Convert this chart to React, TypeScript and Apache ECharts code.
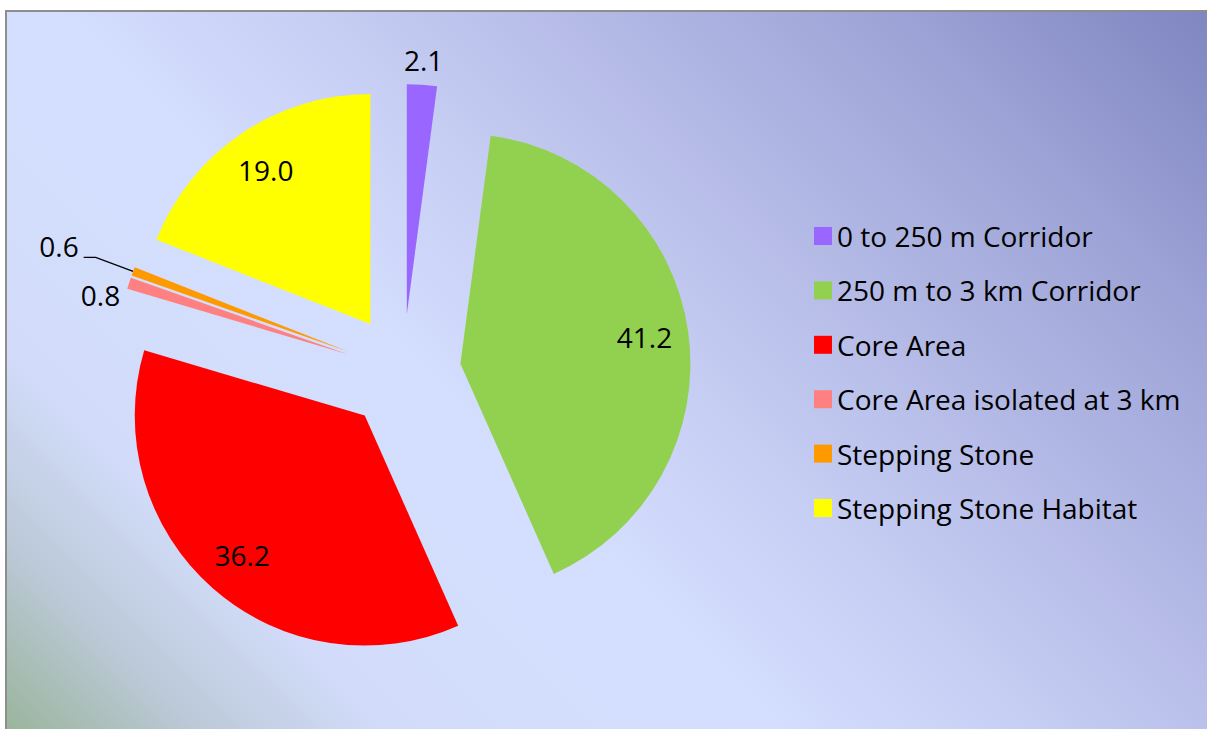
import React, { useEffect, useRef } from "react";
import * as echarts from "echarts";

const categories = [
  "0 to 250 m Corridor",
  "250 m to 3 km Corridor",
  "Core Area",
  "Core Area isolated at 3 km",
  "Stepping Stone",
  "Stepping Stone Habitat",
];
const values = [2.1, 41.2, 36.2, 0.8, 0.6, 19.0];
const colors = ["#9966FF", "#92D050", "#FF0000", "#FF8080", "#FF9900", "#FFFF00"];
// where each slice's value label sits: inside the slice, just beyond it, or outside with a leader
const labelPlace = ["beyond", "inside", "inside", "outside", "outside", "inside"];

const FONT = "'Open Sans', 'Noto Sans', sans-serif";
const FS = 28;

export default function App() {
  const ref = useRef<HTMLDivElement>(null);

  useEffect(() => {
    if (!ref.current) return;
    const chart = echarts.init(ref.current, undefined, { renderer: "svg" });

    const center = [403, 372];
    const R = 230;
    const offset = 58;
    const fmt = (p: any) => Number(p.value).toFixed(1);
    const txt = { color: "#000", fontFamily: FONT, fontSize: FS, formatter: fmt };

    const mainData = categories.map((name, i) => ({
      name,
      value: values[i],
      selected: true,
      itemStyle: { color: colors[i] },
      label:
        labelPlace[i] === "outside"
          ? {
              show: true,
              position: "outside",
              ...txt,
              // label 0.6 sits a little above its leader, 0.8 a little below its slice
              formatter:
                i === 4
                  ? (p: any) => Number(p.value).toFixed(1) + "\n"
                  : (p: any) => "\n" + Number(p.value).toFixed(1),
              lineHeight: i === 4 ? 22 : 26,
            }
          : { show: false },
      labelLine:
        i === 4
          ? { show: true, length: 40, length2: 12, lineStyle: { color: "#000", width: 1.3 } }
          : { show: false, length: 4, length2: 0 },
    }));

    const overlay = (place: string) =>
      categories.map((name, i) => ({
        name,
        value: values[i],
        selected: true,
        itemStyle: { color: "rgba(0,0,0,0)" },
        label:
          labelPlace[i] === place
            ? { show: true, position: "inside", ...txt }
            : { show: false },
      }));

    const overlaySeries = (radius: number[], place: string) => ({
      type: "pie",
      center,
      radius,
      startAngle: 90,
      clockwise: true,
      selectedMode: "multiple",
      selectedOffset: offset,
      avoidLabelOverlap: false,
      silent: true,
      labelLine: { show: false },
      itemStyle: { borderWidth: 0 },
      emphasis: { disabled: true },
      data: overlay(place),
    });

    chart.setOption({
      animation: false,
      graphic: [
        {
          type: "rect",
          z: -10,
          silent: true,
          shape: { x: 6, y: 11, width: 1210, height: 730 },
          style: {
            fill: {
              type: "linear",
              x: 1207,
              y: 10,
              x2: 247,
              y2: 970,
              global: true,
              colorStops: [
                { offset: 0, color: "#7F86C1" },
                { offset: 0.16, color: "#9CA2D5" },
                { offset: 0.32, color: "#B3B9E5" },
                { offset: 0.48, color: "#C8D0F5" },
                { offset: 0.6, color: "#D4DEFE" },
                { offset: 0.8, color: "#D2DCFA" },
                { offset: 0.9, color: "#BCC9D8" },
                { offset: 1, color: "#9AB59C" },
              ],
            },
            stroke: "#8E8E8E",
            lineWidth: 2,
          },
        },
      ],
      legend: {
        orient: "vertical",
        left: 809,
        top: 216,
        icon: "rect",
        itemWidth: 18,
        itemHeight: 18,
        itemGap: 24.4,
        selectedMode: false,
        data: categories,
        textStyle: {
          color: "#000",
          fontFamily: FONT,
          fontSize: FS,
          lineHeight: 30,
        },
      },
      series: [
        {
          type: "pie",
          center,
          radius: [0, R],
          startAngle: 90,
          clockwise: true,
          selectedMode: "multiple",
          selectedOffset: offset,
          avoidLabelOverlap: false,
          silent: true,
          itemStyle: { borderWidth: 0 },
          emphasis: { disabled: true },
          data: mainData,
        },
        overlaySeries([136, R], "inside"),
        overlaySeries([238, 266], "beyond"),
      ],
    });

    return () => chart.dispose();
  }, []);

  return (
    <div
      ref={ref}
      style={{ position: "absolute", left: 0, top: 0, width: 1207, height: 729 }}
    />
  );
}
